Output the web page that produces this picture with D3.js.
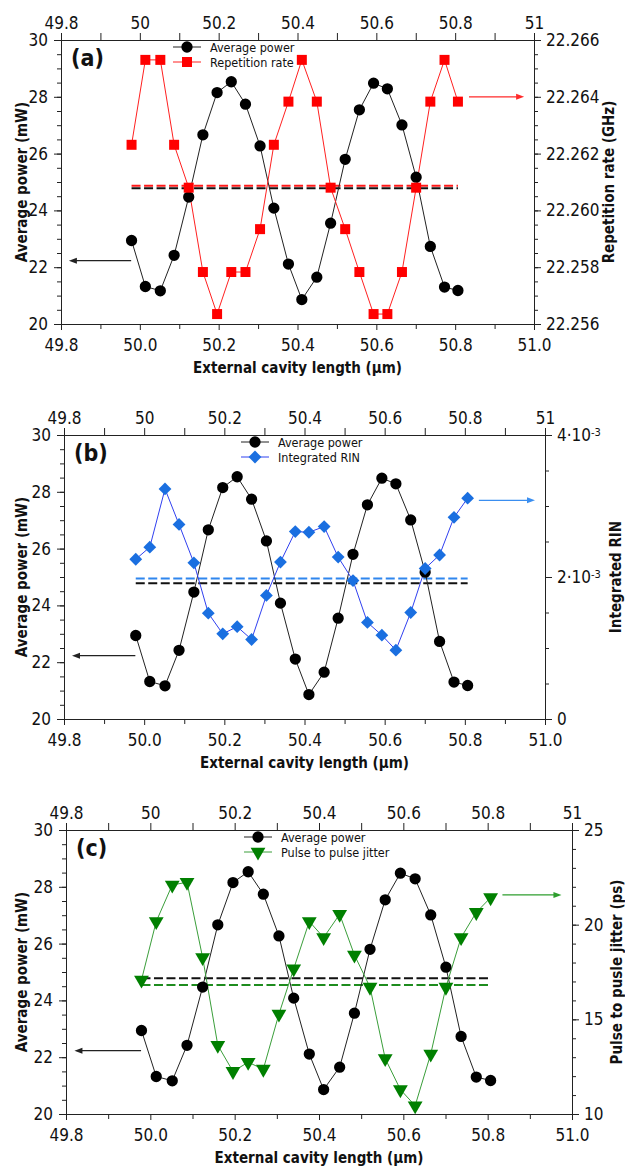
<!DOCTYPE html>
<html>
<head>
<meta charset="utf-8">
<script src="https://cdn.jsdelivr.net/npm/d3@7"></script>
<style>
  body { margin: 0; background: #fff; }
  svg text { font-family: "DejaVu Sans Condensed", "DejaVu Sans", sans-serif; fill: #111; }
</style>
</head>
<body>
<svg id="chart" width="625" height="1166"></svg>
<script>
// external cavity length (µm), shared by the three panels
const cavityLength = [49.979, 50.014, 50.052, 50.087, 50.124, 50.160, 50.196, 50.232,
  50.268, 50.305, 50.340, 50.377, 50.411, 50.449, 50.484, 50.521, 50.557, 50.593,
  50.628, 50.665, 50.701, 50.737, 50.773, 50.807];

// average power (mW)
const avgPower = [22.94, 21.32, 21.17, 22.42, 24.47, 26.66, 28.15, 28.53, 27.74, 26.27,
  24.08, 22.11, 20.86, 21.65, 23.55, 25.80, 27.54, 28.48, 28.28, 27.01, 25.17, 22.73,
  21.30, 21.18];

// repetition rate (GHz)
const repRate = [22.26231, 22.26530, 22.26530, 22.26231, 22.26080, 22.25783, 22.25635,
  22.25783, 22.25783, 22.25934, 22.26231, 22.26383, 22.26530, 22.26383, 22.26080,
  22.25934, 22.25783, 22.25635, 22.25635, 22.25783, 22.26080, 22.26383, 22.26530, 22.26383];

// integrated RIN
const integratedRin = [2.25e-3, 2.42e-3, 3.24e-3, 2.74e-3, 2.20e-3, 1.49e-3, 1.20e-3,
  1.30e-3, 1.12e-3, 1.74e-3, 2.21e-3, 2.64e-3, 2.63e-3, 2.71e-3, 2.28e-3, 1.95e-3,
  1.36e-3, 1.18e-3, 0.97e-3, 1.50e-3, 2.12e-3, 2.31e-3, 2.84e-3, 3.11e-3];

// pulse to pulse jitter (ps)
const pulseJitter = [17.08, 20.17, 22.10, 22.24, 18.27, 13.63, 12.25, 12.73, 12.37, 15.28,
  17.67, 20.17, 19.32, 20.55, 18.40, 16.70, 12.93, 11.29, 10.44, 13.17, 16.70, 19.32,
  20.65, 21.43];

// dashed reference levels
const avgPowerLevel = 24.78;
const repRateLevel = 22.26087;
const rinLevel = 1.98e-3;
const jitterLevel = 16.81;

// arrow levels (left arrow for power, right arrow for the other series)
const powerArrowLevel = 22.23;
const repArrowLevel = 22.264;
const rinArrowLevel = 3.08e-3;
const jitterArrowLevel = 21.57;

// tick labels
const xTicks = [49.8, 50, 50.2, 50.4, 50.6, 50.8, 51];
const xMinorTicks = [49.9, 50.1, 50.3, 50.5, 50.7, 50.9];
const powerTicks = [20, 22, 24, 26, 28, 30];
const repTicks = [22.256, 22.258, 22.260, 22.262, 22.264, 22.266];
const rinTicks = [0, 2e-3, 4e-3];
const jitterTicks = [10, 15, 20, 25];

const svg = d3.select('#chart');
const TICK_FONT = 17;

const panels = [
  {
    label: '(a)', left: 61, right: 534, top: 40, bottom: 324,
    values: repRate, name: 'Repetition rate', level: repRateLevel, arrowLevel: repArrowLevel,
    domain: [22.256, 22.266], ticks: repTicks, minorStep: 0.0005,
    format: d => d.toFixed(3), title: 'Repetition rate (GHz)', titleX: 614,
    color: '#ff0000', lineColor: '#ff2020', dashColor: '#ff1a1a', arrowColor: '#ff2a2a',
    symbol: 'square', legendX: 187
  },
  {
    label: '(b)', left: 64, right: 545, top: 435, bottom: 719,
    values: integratedRin, name: 'Integrated RIN', level: rinLevel, arrowLevel: rinArrowLevel,
    domain: [0, 4e-3], ticks: rinTicks, minorStep: 0.0005,
    format: null, title: 'Integrated RIN', titleX: 621,
    color: '#1a6fe0', lineColor: '#3040f0', dashColor: '#2f86ee', arrowColor: '#3a8ef0',
    symbol: 'diamond', legendX: 255
  },
  {
    label: '(c)', left: 66, right: 572, top: 830, bottom: 1114,
    values: pulseJitter, name: 'Pulse to pulse jitter', level: jitterLevel, arrowLevel: jitterArrowLevel,
    domain: [10, 25], ticks: jitterTicks, minorStep: 1,
    format: d => String(d), title: 'Pulse to pusle jitter (ps)', titleX: 622,
    color: '#008000', lineColor: '#3a9e3a', dashColor: '#1e8c1e', arrowColor: '#2e9e2e',
    symbol: 'triangle', legendX: 258
  }
];

function symbolPath(kind) {
  if (kind === 'circle') return d3.symbol(d3.symbolCircle, 100)();
  if (kind === 'square') return d3.symbol(d3.symbolSquare, 100)();
  if (kind === 'diamond') return d3.symbol(d3.symbolSquare, 82)();
  return d3.symbol(d3.symbolTriangle, 95)();
}
function symbolRotate(kind) {
  if (kind === 'diamond') return ' rotate(45)';
  if (kind === 'triangle') return ' rotate(180)';
  return '';
}

function styleAxis(g, size) {
  g.attr('font-family', null).attr('font-size', null);
  g.selectAll('text').style('font-size', size + 'px').attr('fill', '#111');
  g.selectAll('line, path').attr('stroke', '#222').attr('stroke-width', 1);
}

function drawArrow(g, x1, x2, y, color) {
  const dir = x2 > x1 ? 1 : -1;
  g.append('line')
    .attr('x1', x1).attr('x2', x2 - dir * 6).attr('y1', y).attr('y2', y)
    .attr('stroke', color).attr('stroke-width', 1.2);
  g.append('path')
    .attr('d', `M${x2},${y} L${x2 - dir * 8},${y - 3} L${x2 - dir * 8},${y + 3} Z`)
    .attr('fill', color);
}

function drawPanel(p) {
  const g = svg.append('g');
  const x = d3.scaleLinear().domain([49.8, 51]).range([p.left, p.right]);
  const yL = d3.scaleLinear().domain([20, 30]).range([p.bottom, p.top]);
  const yR = d3.scaleLinear().domain(p.domain).range([p.bottom, p.top]);

  const leftMinor = d3.range(20, 30.001, 0.5);
  const rightMinor = d3.range(p.domain[0], p.domain[1] + p.minorStep / 2, p.minorStep);

  // bottom axis
  g.append('g').attr('transform', `translate(0,${p.bottom})`)
    .call(d3.axisBottom(x).tickValues(xMinorTicks).tickSize(5).tickFormat(''))
    .call(a => styleAxis(a, TICK_FONT));
  g.append('g').attr('transform', `translate(0,${p.bottom})`)
    .call(d3.axisBottom(x).tickValues(xTicks).tickSize(6).tickPadding(9).tickFormat(d3.format('.1f')))
    .call(a => styleAxis(a, TICK_FONT));

  // top axis
  g.append('g').attr('transform', `translate(0,${p.top})`)
    .call(d3.axisTop(x).tickValues(xMinorTicks).tickSize(7).tickFormat(''))
    .call(a => styleAxis(a, TICK_FONT));
  g.append('g').attr('transform', `translate(0,${p.top})`)
    .call(d3.axisTop(x).tickValues(xTicks).tickSize(7).tickPadding(4).tickFormat(d => String(+d.toFixed(1))))
    .call(a => styleAxis(a, TICK_FONT));

  // left axis
  g.append('g').attr('transform', `translate(${p.left},0)`)
    .call(d3.axisLeft(yL).tickValues(leftMinor).tickSize(4).tickFormat(''))
    .call(a => styleAxis(a, TICK_FONT));
  g.append('g').attr('transform', `translate(${p.left},0)`)
    .call(d3.axisLeft(yL).tickValues(powerTicks).tickSize(7).tickPadding(6))
    .call(a => styleAxis(a, TICK_FONT));

  // right axis
  g.append('g').attr('transform', `translate(${p.right},0)`)
    .call(d3.axisRight(yR).tickValues(rightMinor).tickSize(4).tickFormat(''))
    .call(a => styleAxis(a, TICK_FONT));
  const ra = g.append('g').attr('transform', `translate(${p.right},0)`)
    .call(d3.axisRight(yR).tickValues(p.ticks).tickSize(7).tickPadding(5)
      .tickFormat(p.format || (() => '')))
    .call(a => styleAxis(a, TICK_FONT));
  if (!p.format) {
    ra.selectAll('text').each(function (d) {
      const t = d3.select(this).text('');
      if (d === 0) { t.text('0'); return; }
      t.append('tspan').text(`${Math.round(d * 1000)}·10`);
      t.append('tspan').attr('dy', '-0.45em').style('font-size', '11px').text('-3');
    });
  }

  // axis titles
  g.append('text')
    .attr('transform', `translate(27,${(p.top + p.bottom) / 2}) rotate(-90)`)
    .attr('text-anchor', 'middle').style('font-size', '15px').style('font-weight', 'bold')
    .text('Average power (mW)');
  g.append('text')
    .attr('transform', `translate(${p.titleX},${(p.top + p.bottom) / 2}) rotate(-90)`)
    .attr('text-anchor', 'middle').style('font-size', '15px').style('font-weight', 'bold')
    .text(p.title);
  g.append('text')
    .attr('x', (p.left + p.right) / 2).attr('y', p.bottom + 49)
    .attr('text-anchor', 'middle').style('font-size', '15px').style('font-weight', 'bold')
    .text('External cavity length (µm)');

  // panel label
  g.append('text')
    .attr('x', p.left + 10).attr('y', p.top + 26)
    .style('font-size', '23px').style('font-weight', 'bold')
    .text(p.label);

  // dashed levels
  const x0 = x(cavityLength[0]), x1 = x(cavityLength[cavityLength.length - 1]);
  g.append('line')
    .attr('x1', x0).attr('x2', x1).attr('y1', yL(avgPowerLevel)).attr('y2', yL(avgPowerLevel))
    .attr('stroke', '#111').attr('stroke-width', 2).attr('stroke-dasharray', '9,3.5');
  g.append('line')
    .attr('x1', x0).attr('x2', x1).attr('y1', yR(p.level)).attr('y2', yR(p.level))
    .attr('stroke', p.dashColor).attr('stroke-width', 2).attr('stroke-dasharray', '9,3.5');

  // arrows
  drawArrow(g, x(49.978), x(49.82), yL(powerArrowLevel), '#222');
  drawArrow(g, x(50.835), x(50.975), yR(p.arrowLevel), p.arrowColor);

  // power series
  const powerLine = d3.line().x((d, i) => x(cavityLength[i])).y(d => yL(d));
  g.append('path').datum(avgPower).attr('d', powerLine)
    .attr('fill', 'none').attr('stroke', '#222').attr('stroke-width', 1);

  // second series line
  const rightLine = d3.line().x((d, i) => x(cavityLength[i])).y(d => yR(d));
  g.append('path').datum(p.values).attr('d', rightLine)
    .attr('fill', 'none').attr('stroke', p.lineColor).attr('stroke-width', 1);

  g.selectAll('.pw').data(avgPower).join('path')
    .attr('d', symbolPath('circle'))
    .attr('transform', (d, i) => `translate(${x(cavityLength[i])},${yL(d)})`)
    .attr('fill', '#000');

  g.selectAll('.sr').data(p.values).join('path')
    .attr('d', symbolPath(p.symbol))
    .attr('transform', (d, i) => `translate(${x(cavityLength[i])},${yR(d)})${symbolRotate(p.symbol)}`)
    .attr('fill', p.color);

  // legend
  const rows = [
    { name: 'Average power', kind: 'circle', color: '#000', line: '#222' },
    { name: p.name, kind: p.symbol, color: p.color, line: p.lineColor }
  ];
  rows.forEach((r, i) => {
    const ly = p.top + 7 + i * 15;
    g.append('line')
      .attr('x1', p.legendX - 14).attr('x2', p.legendX + 14).attr('y1', ly).attr('y2', ly)
      .attr('stroke', r.line).attr('stroke-width', 1);
    g.append('path').attr('d', symbolPath(r.kind))
      .attr('transform', `translate(${p.legendX},${ly})${symbolRotate(r.kind)}`)
      .attr('fill', r.color);
    g.append('text').attr('x', p.legendX + 23).attr('y', ly + 4.5)
      .style('font-size', '12.5px').text(r.name);
  });
}

panels.forEach(drawPanel);
</script>
</body>
</html>
